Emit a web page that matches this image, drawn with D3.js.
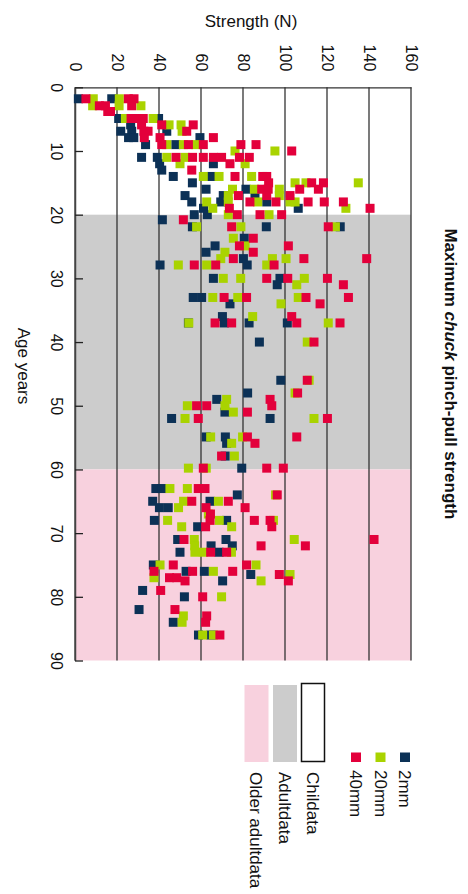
<!DOCTYPE html>
<html><head><meta charset="utf-8">
<script src="https://cdn.jsdelivr.net/npm/d3@7"></script>
<style>
body{margin:0;background:#fff}
svg{display:block}
text{font-family:"Liberation Sans",Arial,Helvetica,sans-serif;fill:#111}
</style>
</head><body>
<svg id="c" width="468" height="894"></svg>
<script>
// ---------- data ----------
const strengthTicks = [0, 20, 40, 60, 80, 100, 120, 140, 160];
const ageTicks = [0, 10, 20, 30, 40, 50, 60, 70, 80, 90];
const seriesNames = ["2mm", "20mm", "40mm"];
const bandNames = ["Childata", "Adultdata", "Older adultdata"];
const bandStart = [0, 20, 60];
const bandEnd = [20, 60, 90];

// [age (years), strength (N)]
const data2mm = [
  [1.8,1.6],[1.8,17.5],[4.9,20.8],[4.9,39.8],[5.9,26.5],[6.9,21.8],[6.9,27],[6.9,43.7],
  [7.9,25.5],[7.9,28],[7.9,59.5],[9,33.6],[9,48],[11,31.7],[11,39.2],[12,40.3],[12,65.9],
  [13,41.3],[14,46.8],[14,65],[15,55.9],[16,62.4],[16,81.4],[17,52.4],[17,70.6],[17,85.7],
  [18,55.6],[18,69.4],[18,91.3],[19,61.2],[19,106.3],[20,56.8],[20,63],[20.8,41.6],
  [21.9,55.9],[21.9,91.1],[21.9,126.3],[23.7,80.6],[24.9,66.7],[25.9,62.4],[26.9,80.2],
  [27.9,40.5],[27.9,82],[30,65.9],[30,97.6],[31,96.3],[33,56.3],[33,60.3],[34,73.8],
  [36,70.2],[37,54],[37,71.1],[37,82.9],[37,101.1],[40,87.8],[46,98],[48,82.2],[49,67.5],
  [51,71.4],[52,46],[52,92.9],[54.9,62.5],[54.9,71.6],[55.9,72.2],[57.9,71.5],[59.8,79.4],
  [63,38.5],[63,41.3],[64,77.3],[65,37],[65,64.3],[66,40.2],[66,44.4],[68,37.8],[68,72.2],
  [69,58.4],[71,48.9],[71,71.9],[72,64.8],[72,74.9],[73,50],[73,68.6],[75,37.3],[76,52.9],
  [76,61.6],[76.5,83.7],[77.5,70.3],[79,32.2],[80,52.1],[82,30.5],[84,46.8],[86,58.8],[86,64.8]
];
const data20mm = [
  [1.8,8.7],[1.8,21.1],[2.9,8.4],[2.9,21],[2.9,31.4],[4.9,24],[4.9,37.2],[5.9,44.8],[5.9,50.5],
  [6.9,51],[9,43.7],[9,51.6],[9,57.5],[10,76.2],[10,95.2],[11,43.7],[11,52.4],[12,50],[12,81],
  [14,61.1],[14,68.6],[14,84.1],[15,104.8],[15,110],[15,134.9],[16,75],[16,85.4],[16,97.3],
  [17,73],[17,97.3],[18,62.7],[18,73],[18,87],[18,102.4],[18,104.8],[19,65.6],[19,129],
  [20,73],[20,92.4],[21.9,57.9],[21.9,79],[21.9,124],[23.7,75.4],[24.9,81],[25.9,71.4],
  [26.9,69.4],[26.9,94],[26.9,100.5],[27.9,49.2],[27.9,62.7],[27.9,91.3],[30,70.6],[30,78.9],
  [30,109.2],[31,105.6],[33,65.6],[33,77.5],[33,106.3],[34,98.1],[36,84.6],[37,54.2],[37,120.6],
  [40,110.6],[46,111.5],[48,104.8],[49,72.2],[50,53.5],[50,71.4],[51,75.4],[52,52.4],[52,113.8],
  [54.9,64.6],[54.9,79.8],[55.9,74.6],[57.9,75.9],[59.8,54],[59.8,62.5],[63,45.2],[63,53.5],
  [64,95.5],[65,51.7],[65,68.3],[66,49.3],[67,63.5],[68,44.1],[68,68.7],[68,94.5],[69,50.8],
  [69,74.6],[71,56.8],[71,104.4],[72,57],[73,57.1],[73,61.1],[73,74.5],[75,40.5],[75,86.2],
  [76,65.9],[76.5,102.4],[77,37.6],[77.5,88.6],[80,69.8],[83,51.6],[84,51],[86,60.8],[86,65.9]
];
const data40mm = [
  [1.8,5.2],[1.8,25.4],[1.8,28.1],[2.9,11.6],[2.9,14.5],[2.9,27],[3.8,15.6],[3.8,16.9],
  [4.9,26.7],[4.9,29.4],[4.9,32.5],[5.9,31.7],[5.9,41.3],[5.9,56.3],[6.9,32.8],[6.9,34.8],
  [6.9,53.2],[7.9,33],[7.9,40.5],[7.9,65.9],[9,41.3],[9,54],[9,61.1],[9,79],[9,86.2],[10,103.2],
  [11,48.1],[11,56],[11,61.1],[11,65.9],[11,69.8],[11,78.3],[11,83],[12,73.8],[13,55.6],
  [14,76.2],[14,89.4],[14,91.3],[15,92.2],[15,112.7],[15,118.3],[16,88.9],[16,92],[16,107],
  [16,115.9],[17,77.8],[17,91.3],[17,102.4],[18,83.3],[18,95.7],[18,111],[18,118.7],[18,127.8],
  [19,73.5],[19,140.5],[20,77.3],[20,88.1],[20,98.4],[20.8,51.6],[21.9,74.6],[21.9,120.6],
  [23.7,84.9],[24.9,78.3],[24.9,101.6],[25.9,84.9],[26.9,75.4],[26.9,109],[26.9,138.9],
  [27.9,56.8],[27.9,67],[27.9,94.8],[30,91.3],[30,101.3],[30,120.2],[31,127.8],[33,71],
  [33,81.7],[33,110],[33,130.2],[34,116.7],[36,103.2],[37,66.7],[37,74.6],[37,105.6],[37,126.2],
  [40,113.8],[46,110.6],[48,106],[49,92.9],[50,57.9],[50,62.7],[50,93.7],[51,82.1],[52,58.7],
  [52,120.2],[54.9,82.1],[54.9,105.6],[55.9,85.7],[57.9,69.8],[59.8,61.1],[59.8,91.3],
  [59.8,99.2],[63,58.7],[63,61.9],[64,96.3],[65,55.6],[65,73],[66,62.4],[66,81],[67,64.5],
  [68,64.3],[68,85.4],[68,92.9],[69,62.2],[69,93.7],[71,51.9],[71,142.4],[72,88.6],[72,109.7],
  [73,64.6],[73,72.2],[75,46.8],[75,81.7],[76,37.6],[76,56],[76,75.1],[76.5,97.3],[77,45],
  [77,48.4],[77.5,52.4],[77.5,101.6],[79,40.8],[80,60.8],[82,47.6],[83,62.7],[84,62.2],[86,69]
];
const seriesData = [data2mm, data20mm, data40mm];

// ---------- styles / layout ----------
const seriesColors = ["#0c3156", "#a9d300", "#e3003b"];
const bandColors = ["#ffffff", "#cccccc", "#f8d1de"];
const gridColor = "#333";

const svg = d3.select("#c");
const x = d3.scaleLinear().domain([0, 160]).range([75, 411]);
const y = d3.scaleLinear().domain([0, 90]).range([87.3, 660.5]);

// bands
svg.append("g").selectAll("rect").data(bandNames).join("rect")
  .attr("x", x(0)).attr("width", x(160) - x(0))
  .attr("y", (d, i) => y(bandStart[i]))
  .attr("height", (d, i) => y(bandEnd[i]) - y(bandStart[i]))
  .attr("fill", (d, i) => bandColors[i]);

// vertical gridlines (strength)
svg.append("g").selectAll("line").data(strengthTicks).join("line")
  .attr("x1", d => x(d)).attr("x2", d => x(d))
  .attr("y1", y(0)).attr("y2", y(90))
  .attr("stroke", gridColor).attr("stroke-width", 1.3);

// top strength axis
const topAxis = svg.append("g").attr("transform", `translate(0,${y(0)})`)
  .call(d3.axisTop(x).tickValues(strengthTicks).tickSize(0).tickSizeOuter(0));
topAxis.select(".domain").attr("stroke", gridColor).attr("stroke-width", 1.3);
topAxis.selectAll("text")
  .attr("x", null).attr("y", null).attr("dy", "0.35em")
  .attr("transform", "translate(0,-16) rotate(90)")
  .attr("text-anchor", "end")
  .style("font-size", "16px").style("font-family", '"Liberation Sans",Arial,sans-serif').attr("fill", "#111");

// left age axis
const leftAxis = svg.append("g").attr("transform", `translate(${x(0)},0)`)
  .call(d3.axisLeft(y).tickValues(ageTicks).tickSize(-8).tickSizeOuter(0));
leftAxis.select(".domain").attr("stroke", "#444").attr("stroke-width", 1.5);
leftAxis.selectAll(".tick line").attr("stroke", "#222").attr("stroke-width", 1.3);
leftAxis.selectAll("text")
  .attr("x", null).attr("y", null).attr("dy", "0.35em")
  .attr("transform", "translate(-18,0) rotate(90)")
  .attr("text-anchor", "middle")
  .style("font-size", "16px").style("font-family", '"Liberation Sans",Arial,sans-serif').attr("fill", "#111");

// points
const sq = 9;
seriesData.forEach((arr, si) => {
  svg.append("g").selectAll("rect").data(arr).join("rect")
    .attr("x", d => x(d[1]) - sq / 2)
    .attr("y", d => y(d[0]) - sq / 2)
    .attr("width", sq).attr("height", sq)
    .attr("fill", seriesColors[si]);
});

// axis titles
svg.append("text").attr("x", 251).attr("y", 26.5).attr("text-anchor", "middle")
  .style("font-size", "17px").text("Strength (N)");
svg.append("text").attr("transform", "translate(24,366) rotate(90)")
  .attr("text-anchor", "middle").attr("dy", "0.35em")
  .style("font-size", "17px").text("Age years");

// title
const t = svg.append("text").attr("transform", `translate(451,${(y(0) + y(90)) / 2}) rotate(90)`)
  .attr("text-anchor", "middle").attr("dy", "0.35em")
  .style("font-size", "17px").style("font-weight", "bold");
t.append("tspan").text("Maximum ");
t.append("tspan").style("font-style", "italic").text("chuck");
t.append("tspan").text(" pinch-pull strength");

// series legend
const legSeriesX = i => 405 - i * 24.5;
const lg = svg.append("g");
lg.selectAll("rect").data(seriesNames).join("rect")
  .attr("x", (d, i) => legSeriesX(i) - 5).attr("y", 752.5)
  .attr("width", 10).attr("height", 9.5)
  .attr("fill", (d, i) => seriesColors[i]);
lg.selectAll("text").data(seriesNames).join("text")
  .attr("transform", (d, i) => `translate(${legSeriesX(i)},770) rotate(90)`)
  .attr("dy", "0.35em").attr("text-anchor", "start")
  .style("font-size", "17px").text(d => d);

// band legend
const legBandX = i => 313 - i * 28.5;
const bg = svg.append("g");
bg.selectAll("rect").data(bandNames).join("rect")
  .attr("x", (d, i) => legBandX(i) - 11.5).attr("y", (d, i) => i === 0 ? 683.5 : 685)
  .attr("width", (d, i) => i === 0 ? 23 : 24)
  .attr("height", (d, i) => i === 0 ? 78 : 77)
  .attr("fill", (d, i) => bandColors[i])
  .attr("stroke", (d, i) => i === 0 ? "#111" : "none")
  .attr("stroke-width", 1.5);
bg.selectAll("text").data(bandNames).join("text")
  .attr("transform", (d, i) => `translate(${legBandX(i)},772) rotate(90)`)
  .attr("dy", "0.35em").attr("text-anchor", "start")
  .style("font-size", "17px").text(d => d);
</script>
</body></html>
